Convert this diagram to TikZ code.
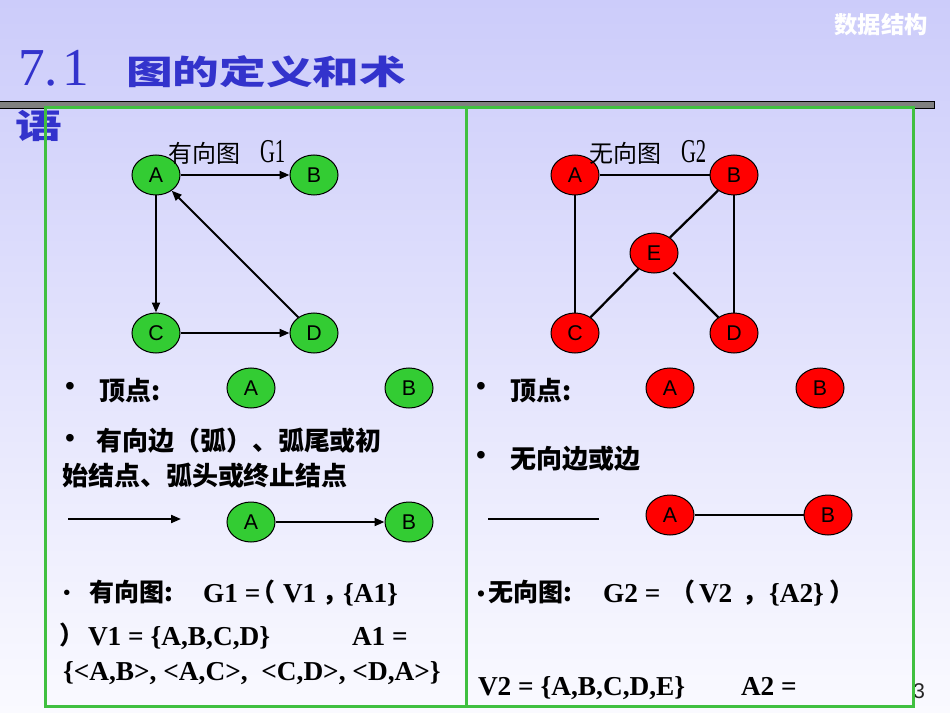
\documentclass[tikz,border=0pt]{standalone}
\usepackage{fontspec}
\setmainfont{Liberation Serif}
\newfontfamily\cjk{Noto Sans CJK SC}
\newfontfamily\arial{Liberation Sans}
\newfontfamily\tnr{Liberation Serif}
\usetikzlibrary{shapes.geometric,arrows.meta}
\definecolor{bgtop}{RGB}{204,204,250}
\definecolor{bgbot}{RGB}{250,250,255}
\definecolor{ngreen}{RGB}{51,204,51}
\definecolor{nred}{RGB}{255,0,0}
\definecolor{boxgreen}{RGB}{64,192,64}
\definecolor{titleblue}{RGB}{51,51,204}
\definecolor{bargray}{RGB}{128,128,128}
\tikzset{
  gnode/.style={ellipse, draw=black, line width=0.75pt, fill=ngreen, minimum width=36pt, minimum height=30pt, inner sep=0pt, font=\arial\fontsize{16}{16}\selectfont},
  rnode/.style={gnode, fill=nred},
  darc/.style={line width=1.5pt, -{Triangle[length=7.5pt,width=6pt]}},
  uedge/.style={line width=1.7pt},
  txt/.style={anchor=base west, inner sep=0pt, outer sep=0pt},
  cjkrow/.style={txt, font=\cjk\bfseries\fontsize{19.5}{19.5}\selectfont},
  cjkbot/.style={txt, font=\cjk\bfseries\fontsize{18.75}{18.75}\selectfont},
  latbot/.style={txt, font=\tnr\bfseries\fontsize{20.5}{20.5}\selectfont},
  bul/.style={inner sep=0pt, font=\arial\fontsize{21}{21}\selectfont},
  glabel/.style={txt, font=\cjk\fontsize{18}{18}\selectfont},
}
\begin{document}
\begin{tikzpicture}[x=0.75pt,y=-0.75pt]
\useasboundingbox (0,0) rectangle (950,713);
\shade[top color=bgtop, bottom color=bgbot] (0,0) rectangle (950,713);

% header
\node[font=\cjk\bfseries\fontsize{17.5}{17.5}\selectfont, text=white, inner sep=0pt] (hdr) at (881,25) {数据结构};
% title
\node[txt, font=\tnr\fontsize{40}{40}\selectfont, text=titleblue] (tnum) at (18,86) {7.\hspace{3pt}1};
\node[anchor=west, inner sep=0pt, text=titleblue, font=\cjk\bfseries\fontsize{25}{25}\selectfont] (ttl) at (126,72) {\scalebox{1.4}[1]{图的定义和术}};
\node[anchor=west, inner sep=0pt, text=titleblue, font=\cjk\bfseries\fontsize{25}{25}\selectfont] (ttl2) at (15,126) {\scalebox{1.4}[1]{语}};

% page number
\node[font=\arial\fontsize{16}{16}\selectfont, text=black!85, inner sep=0pt] (pg) at (919,691) {3};

% gray bar
\draw[fill=bargray, draw=black, line width=0.75pt] (-2,102) rectangle (934,109);

% green boxes
\draw[boxgreen, line width=2.25pt] (45,108) rectangle (466,706);
\draw[boxgreen, line width=2.25pt] (466,108) rectangle (913,706);

% ---------- G1 ----------
\node[gnode] (A1) at (156,175) {A};
\node[gnode] (B1) at (314,175) {B};
\node[gnode] (C1) at (156,333) {C};
\node[gnode] (D1) at (314,333) {D};
\draw[darc] (A1) -- (B1);
\draw[darc] (A1) -- (C1);
\draw[darc] (C1) -- (D1);
\draw[darc] (D1) -- (A1);
\node[glabel] (lab1) at (168,163) {有向图\hspace{15pt}{\tnr\scalebox{0.62}[1]{\fontsize{25}{25}\selectfont G1}}};

% ---------- G2 ----------
\node[rnode] (A2) at (575,175) {A};
\node[rnode] (B2) at (734,175) {B};
\node[rnode] (E2) at (654,253) {E};
\node[rnode] (C2) at (575,333) {C};
\node[rnode] (D2) at (734,333) {D};
\draw[uedge] (A2) -- (B2);
\draw[uedge] (A2) -- (C2);
\draw[uedge] (B2) -- (D2);
\draw[uedge] (B2) -- (E2);
\draw[uedge] (E2) -- (C2);
\draw[uedge, shorten <=4pt] (E2) -- (D2);
\node[glabel] (lab2) at (589,163) {无向图\hspace{15pt}{\tnr\scalebox{0.62}[1]{\fontsize{25}{25}\selectfont G2}}};

% ---------- left rows ----------
\node[bul] (lb1) at (70,389) {•};
\node[cjkrow] (lt1) at (99,400) {顶点:};
\node[gnode] (lA1) at (251,388) {A};
\node[gnode] (lB1) at (409,388) {B};
\node[bul] (lb2) at (70,441) {•};
\node[cjkrow] (lt2) at (96,450) {有向边（弧）、弧尾或初};
\node[cjkrow] (lt3) at (62,485) {始结点、弧头或终止结点};
\coordinate (la0) at (68,519);
\coordinate (la1) at (181,519);
\draw[darc] (la0) -- (la1);
\node[gnode] (lA2) at (251,522) {A};
\node[gnode] (lB2) at (409,522) {B};
\draw[darc] (lA2) -- (lB2);

% ---------- right rows ----------
\node[bul] (rb1) at (481,389) {•};
\node[cjkrow] (rt1) at (510,400) {顶点:};
\node[rnode] (rA1) at (670,388) {A};
\node[rnode] (rB1) at (820,388) {B};
\node[bul] (rb2) at (481,458) {•};
\node[cjkrow] (rt2) at (510,468) {无向边或边};
\coordinate (rl0) at (488,519);
\coordinate (rl1) at (599,519);
\draw[uedge] (rl0) -- (rl1);
\node[rnode] (rA2) at (670,515) {A};
\node[rnode] (rB2) at (828,515) {B};
\draw[uedge] (rA2) -- (rB2);

% ---------- bottom left ----------
\node[bul, font=\arial\fontsize{15}{15}\selectfont] (lbb) at (67,595) {•};
\node[cjkbot] (ld1) at (89,601) {有向图:};
\node[latbot] (ld2) at (203,602) {G1 =};
\node[cjkbot] (ld3) at (250,601) {（};
\node[latbot] (ld4) at (283,602) {V1};
\node[cjkbot] (ld5) at (322,601) {，};
\node[latbot] (ld6) at (343,602) {\{A1\}};
\node[cjkbot] (le1) at (59,644) {）};
\node[latbot] (le2) at (88,645) {V1 = \{A,B,C,D\}};
\node[latbot] (le3) at (352,645) {A1 =};
\node[latbot] (lf1) at (63,680) {\{<A,B>, <A,C>,\ \ <C,D>, <D,A>\}};

% ---------- bottom right ----------
\node[bul, font=\arial\fontsize{17}{17}\selectfont] (rbb) at (481,596) {•};
\node[cjkbot] (rd1) at (488,601) {无向图:};
\node[latbot] (rd2) at (603,602) {G2 =};
\node[cjkbot] (rd3) at (670,601) {（};
\node[latbot] (rd4) at (699,602) {V2};
\node[cjkbot] (rd5) at (742,601) {，};
\node[latbot] (rd6) at (769,602) {\{A2\}};
\node[cjkbot] (rd7) at (829,601) {）};
\node[latbot] (re1) at (478,695) {V2 = \{A,B,C,D,E\}};
\node[latbot] (re2) at (741,695) {A2 =};
\end{tikzpicture}
\end{document}
